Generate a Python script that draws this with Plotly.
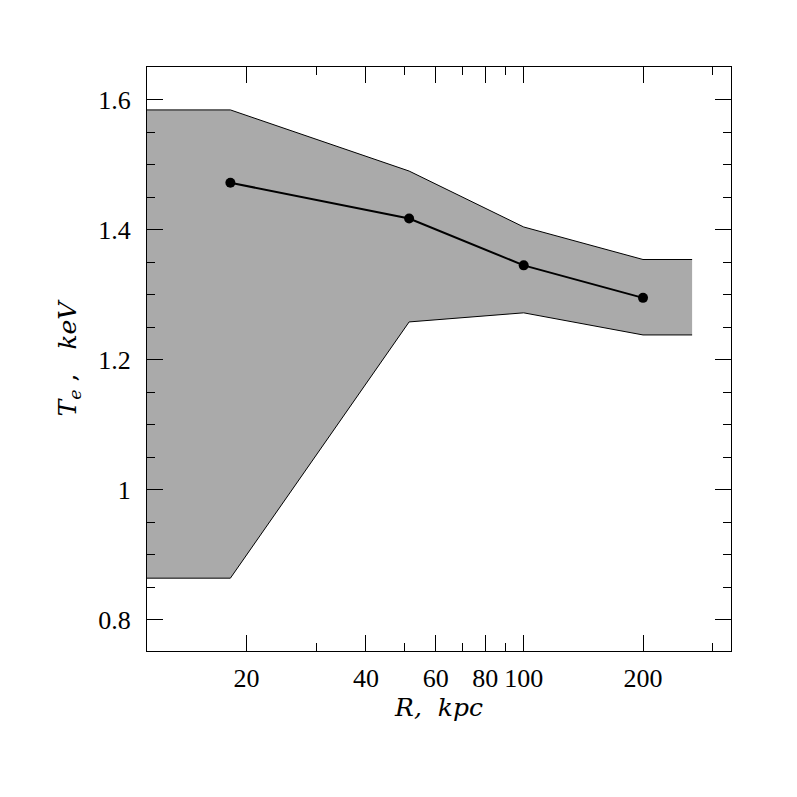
import plotly.graph_objects as go

# measured profile
r_kpc = [18.2, 51.4, 100.0, 200.0]
t_kev = [1.472, 1.417, 1.345, 1.295]

# error band edges
band_r = [10.0, 18.2, 51.4, 100.0, 200.0, 266.0]
band_hi = [1.584, 1.584, 1.490, 1.404, 1.354, 1.354]
band_lo = [0.864, 0.864, 1.258, 1.272, 1.238, 1.238]

x_major = [20, 40, 60, 80, 100, 200]
x_labels = ["20", "40", "60", "80", "100", "200"]
x_minor = [30, 50, 70, 90, 300]

TICK_FONT = "Liberation Serif"
TITLE_FONT = "DejaVu Serif"

fig = go.Figure()

# filled band (no outline on the ends)
fig.add_trace(go.Scatter(
    x=band_r + band_r[::-1],
    y=band_hi + band_lo[::-1],
    fill="toself",
    fillcolor="#aaaaaa",
    line=dict(width=0),
    mode="lines",
    hoverinfo="skip",
    showlegend=False,
))
for edge in (band_hi, band_lo):
    fig.add_trace(go.Scatter(
        x=band_r, y=edge,
        mode="lines",
        line=dict(color="black", width=1),
        hoverinfo="skip",
        showlegend=False,
    ))

fig.add_trace(go.Scatter(
    x=r_kpc, y=t_kev,
    mode="lines+markers",
    line=dict(color="black", width=2),
    marker=dict(color="black", size=10),
    showlegend=False,
))

axis_common = dict(
    showgrid=False, zeroline=False,
    showline=True, linecolor="black", linewidth=1,
    mirror="allticks", ticks="inside", ticklen=16, tickwidth=1, tickcolor="black",
    tickfont=dict(family=TICK_FONT, size=26, color="black"),
)

fig.update_xaxes(
    type="log", range=[1.0497, 2.523],
    tickmode="array", tickvals=x_major, ticktext=x_labels,
    minor=dict(tickmode="array", tickvals=x_minor, ticks="inside",
               ticklen=8, tickcolor="black", showgrid=False),
    ticklabelstandoff=4,
    title=dict(text="<i>R,&nbsp;&nbsp;kpc</i>",
               font=dict(family=TITLE_FONT, size=25, color="black"), standoff=4),
    **axis_common,
)
fig.update_yaxes(
    range=[0.752, 1.65],
    tickmode="array", tickvals=[0.8, 1.0, 1.2, 1.4, 1.6],
    ticktext=["0.8", "1", "1.2", "1.4", "1.6"],
    minor=dict(dtick=0.05, ticks="inside", ticklen=8, tickcolor="black", showgrid=False),
    ticklabelstandoff=10,
    title=dict(text="<i>T</i><sub><i>e</i></sub> ,&nbsp;&nbsp;&nbsp;<i>keV</i>",
               font=dict(family=TITLE_FONT, size=25, color="black"), standoff=14),
    **axis_common,
)

fig.update_layout(
    width=797, height=797,
    margin=dict(l=139, r=74, t=59, b=154),
    plot_bgcolor="white", paper_bgcolor="white",
)

fig.write_html("out.html")
